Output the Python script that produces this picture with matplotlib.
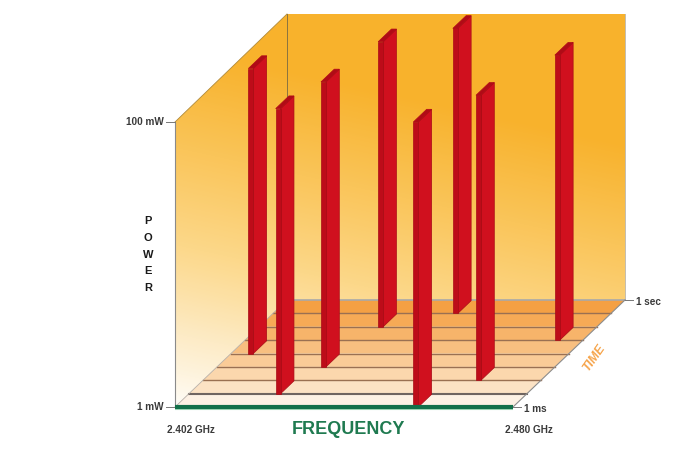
import numpy as np
import matplotlib
matplotlib.use("Agg")
import matplotlib.pyplot as plt
from matplotlib.colors import LinearSegmentedColormap
from matplotlib.patches import Polygon

# ---- data: one frequency hop per time slot ----
hop_slot = [0, 1, 2, 3, 4, 5, 6, 7]
hop_freq_ghz = [2.457, 2.422, 2.465, 2.426, 2.406, 2.4735, 2.4295, 2.4435]
hop_power_mw = [100, 100, 100, 100, 100, 100, 100, 100]

n_slots = 8
freq_range_ghz = [2.402, 2.480]
power_range_mw = [1, 100]
freq_labels = ["2.402 GHz", "2.480 GHz"]
power_labels = ["1 mW", "100 mW"]
time_labels = ["1 ms", "1 sec"]

# ---- oblique box geometry (screen units) ----
ORIGIN = (175.0, 407.0)
FREQ_LEN = 338.0
DEPTH_VEC = (112.0, -107.0)
POWER_LEN = 285.0


def f_frac(ghz):
    return (ghz - freq_range_ghz[0]) / (freq_range_ghz[1] - freq_range_ghz[0])


def p_frac(mw):
    lo, hi = np.log10(power_range_mw)
    return (np.log10(mw) - lo) / (hi - lo)


def proj(f, d, p):
    x = ORIGIN[0] + FREQ_LEN * f + DEPTH_VEC[0] * d
    y = ORIGIN[1] + DEPTH_VEC[1] * d - POWER_LEN * p
    return (x, y)


fig = plt.figure(figsize=(6.78, 4.57), dpi=100)
ax = fig.add_axes([0, 0, 1, 1])
ax.set_xlim(0, 678)
ax.set_ylim(457, 0)
ax.axis("off")

# ---- walls with a warm gradient ----
wall_cmap = LinearSegmentedColormap.from_list(
    "wall", ["#fffdf8", "#fdebc6", "#fcd88a", "#fac55a", "#f8b22c"])
top_p = 286.0 / POWER_LEN
left_wall = [proj(0, 0, 0), proj(0, 0, 1), proj(0, 1, top_p), proj(0, 1, 0)]
back_wall = [proj(0, 1, 0), proj(0, 1, top_p), proj(1, 1, top_p), proj(1, 1, 0)]

yy, xx = np.mgrid[0:457, 0:678]
t = np.clip(((405 - yy) * 1.0 + (xx - 180) * 0.22) / 360.0, 0, 1) ** 0.85
for poly in (left_wall, back_wall):
    im = ax.imshow(t, cmap=wall_cmap, extent=(0, 678, 457, 0), origin="upper",
                   vmin=0, vmax=1, zorder=1, interpolation="bilinear")
    clip = Polygon(poly, closed=True, transform=ax.transData, facecolor="none")
    ax.add_patch(clip)
    clip.set_visible(False)
    im.set_clip_path(clip)

# wall edges
ax.plot(*zip(proj(0, 1, 0), proj(0, 1, top_p)), color="#8a7440", lw=0.7, zorder=2)
ax.plot(*zip(proj(0, 0, 1), proj(0, 1, top_p)), color="#b08a3a", lw=0.6, zorder=2)
ax.plot(*zip(proj(1, 1, 0), proj(1, 1, top_p)), color="#c4bcae", lw=0.7, zorder=2)
ax.plot(*zip(proj(0, 0, 0), proj(0, 0, 1)), color="#8a8a8a", lw=0.8, zorder=2)

# ---- floor: one stripe per time slot ----
floor_colors = ["#fdf1e4", "#fce2c4", "#fbd7ad", "#facb97", "#f8bf80",
                "#f7b46a", "#f6aa56", "#f4a044"]
for k in range(n_slots):
    d0, d1 = k / n_slots, (k + 1) / n_slots
    ax.add_patch(Polygon([proj(0, d0, 0), proj(1, d0, 0), proj(1, d1, 0), proj(0, d1, 0)],
                         closed=True, facecolor=floor_colors[k], edgecolor="none", zorder=3))
for k in range(1, n_slots):
    d = k / n_slots
    col, lw = ("#6f6460", 1.5) if k == 1 else ("#9a7052", 1.0)
    ax.plot(*zip(proj(0, d, 0), proj(1, d, 0)), color=col, lw=lw, zorder=4)
ax.plot(*zip(proj(0, 1, 0), proj(1, 1, 0)), color="#a9a9a9", lw=1.2, zorder=4)
ax.plot(*zip(proj(1, 0, 0), proj(1, 1, 0)), color="#8c8c8c", lw=0.8, zorder=4)
ax.plot(*zip(proj(0, 0, 0), proj(0, 1, 0)), color="#b8b0a8", lw=0.6, zorder=4)

# ---- hop bars (drawn back to front) ----
bar_w = 5.0 / FREQ_LEN
bar_depth = 0.95 / n_slots
order = sorted(range(len(hop_slot)), key=lambda i: -hop_slot[i])
for i in order:
    f0 = f_frac(hop_freq_ghz[i])
    f1 = f0 + bar_w
    d0 = hop_slot[i] / n_slots
    d1 = d0 + bar_depth
    p1 = p_frac(hop_power_mw[i])
    side = [proj(f1, d0, 0), proj(f1, d1, 0), proj(f1, d1, p1), proj(f1, d0, p1)]
    front = [proj(f0, d0, 0), proj(f1, d0, 0), proj(f1, d0, p1), proj(f0, d0, p1)]
    top = [proj(f0, d0, p1), proj(f1, d0, p1), proj(f1, d1, p1), proj(f0, d1, p1)]
    z = 10 + (n_slots - hop_slot[i])
    ax.add_patch(Polygon(side, closed=True, facecolor="#d0101e", edgecolor="#a80c16",
                         lw=0.5, zorder=z))
    ax.add_patch(Polygon(front, closed=True, facecolor="#bd0c19", edgecolor="#a80c16",
                         lw=0.5, zorder=z))
    ax.add_patch(Polygon(top, closed=True, facecolor="#b00b16", edgecolor="#b00b16",
                         lw=0.5, zorder=z))

# ---- frequency axis ----
fa, fb = proj(0, 0, 0), proj(1, 0, 0)
ax.plot([fa[0], fb[0]], [fa[1] + 2.2, fb[1] + 2.2], color="#a8dcbc", lw=1.5, zorder=20,
        solid_capstyle="butt")
ax.plot([fa[0], fb[0]], [fa[1], fb[1]], color="#12704a", lw=3.0, zorder=21,
        solid_capstyle="butt")

# ---- ticks and labels ----
lab = dict(fontsize=7.2, color="#3a3a3a", fontweight="bold", family="Liberation Sans",
           zorder=30)
for mw, text in zip(power_range_mw, power_labels):
    x, y = proj(0, 0, p_frac(mw))
    ax.plot([x - 9, x], [y, y], color="#777777", lw=0.7, zorder=5)
    ax.text(x - 11, y, text, ha="right", va="center", **lab)

for ghz, text in zip(freq_range_ghz, freq_labels):
    x, y = proj(f_frac(ghz), 0, 0)
    ax.text(x - 8, y + 23, text, ha="left", va="center", **lab)

for d, text in zip([0, 1], time_labels):
    x, y = proj(1, d, 0)
    ax.plot([x, x + 8], [y, y], color="#777777", lw=0.7, zorder=5)
    ax.text(x + 11, y + 2, text, ha="left", va="center", **lab)

ax.text(348, 430, "FREQUENCY", ha="center", va="center", fontsize=13,
        fontweight="bold", color="#1f7a50", family="Liberation Sans", zorder=30)

ax.text(594, 358, "TIME", ha="center", va="center", fontsize=9, rotation=55,
        fontweight="bold", fontstyle="italic", color="#f6a54c",
        family="Liberation Sans", zorder=30)

for k, ch in enumerate("POWER"):
    ax.text(148, 221 + k * 16.8, ch, ha="center", va="center", fontsize=8,
            fontweight="bold", color="#1a1a1a", family="Liberation Sans", zorder=30)

fig.savefig("out.png", dpi=100, facecolor="white")
